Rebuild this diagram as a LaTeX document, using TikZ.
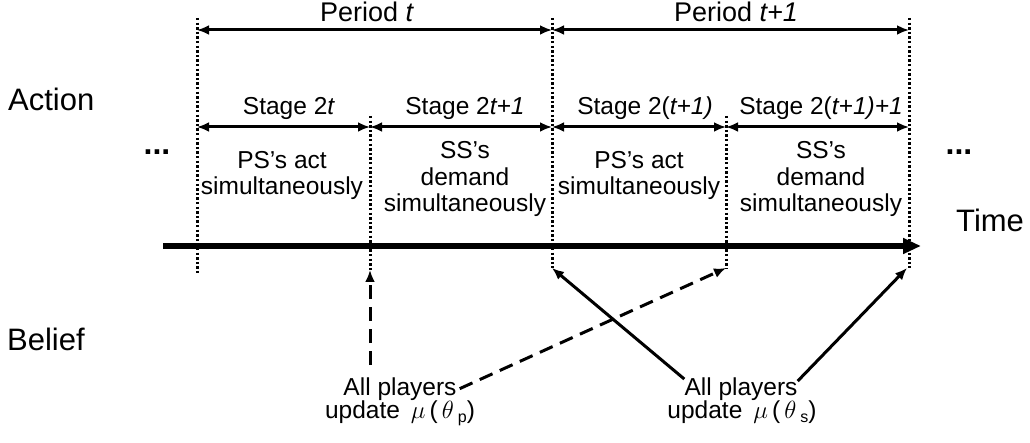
\documentclass[tikz,border=0pt]{standalone}
\usepackage{fontspec}
\setmainfont{Liberation Sans}
\usetikzlibrary{arrows.meta}
\begin{document}
\begin{tikzpicture}[x=1pt,y=-1pt,
  txt/.style={font=\fontsize{24.5}{27}\selectfont, inner sep=0pt, anchor=base},
  pertxt/.style={font=\fontsize{27}{30}\selectfont, inner sep=0pt, anchor=base},
  rowtxt/.style={font=\fontsize{31}{34}\selectfont, inner sep=0pt, anchor=base west},
  dots/.style={font=\fontsize{32}{34}\selectfont\bfseries, inner sep=0pt, anchor=base},
  boundary/.style={line width=3pt, dash pattern=on 2.4pt off 2.2pt},
  span/.style={line width=3pt, {Latex[length=12pt,width=10pt]}-{Latex[length=12pt,width=10pt]}},
  upd/.style={line width=3pt, -{Latex[length=12pt,width=10pt]}},
  updash/.style={upd, dash pattern=on 14pt off 8pt},
  timeline/.style={line width=6pt, -{Triangle[length=18pt,width=15pt]}}
]
\useasboundingbox (0,0) rectangle (1030,443);

% boundaries between periods and stages
\coordinate (b0t) at (197,18);  \coordinate (b0b) at (197,273);
\coordinate (b1t) at (370,116); \coordinate (b1b) at (370,270);
\coordinate (b2t) at (552,18);  \coordinate (b2b) at (552,268);
\coordinate (b3t) at (726,116); \coordinate (b3b) at (726,268);
\coordinate (b4t) at (909,18);  \coordinate (b4b) at (909,268);

% time axis
\coordinate (tl0) at (163,246);
\coordinate (tl1) at (921,246);
\draw[timeline] (tl0) -- (tl1);

\foreach \b in {b0,b1,b2,b3,b4}
  \draw[boundary] (\b t) -- (\b b);

% period spans
\coordinate (p0) at (197,30); \coordinate (p1) at (552,30); \coordinate (p2) at (909,30);
\draw[span] (p0) -- (p1);
\draw[span] (p1) -- (p2);
\node[pertxt] (pt) at (367,22) {Period \textit{t}};
\node[pertxt] (pt1) at (736,22) {Period \textit{t+1}};

% stage spans
\coordinate (s0) at (197,127); \coordinate (s1) at (370,127); \coordinate (s2) at (552,127);
\coordinate (s3) at (726,127); \coordinate (s4) at (909,127);
\draw[span] (s0) -- (s1);
\draw[span] (s1) -- (s2);
\draw[span] (s2) -- (s3);
\draw[span] (s3) -- (s4);
\node[txt] (st0) at (289,115) {Stage 2\textit{t}};
\node[txt] (st1) at (465,115) {Stage 2\textit{t+1}};
\node[txt] (st2) at (645,115) {Stage 2(\textit{t+1)}};
\node[txt] (st3) at (821,115) {Stage 2(\textit{t+1)+1}};

% actions in each stage
\node[txt] (a0a) at (282,169) {PS’s act};
\node[txt] (a0b) at (282,195) {simultaneously};
\node[txt] (a1a) at (465,159) {SS’s};
\node[txt] (a1b) at (465,186) {demand};
\node[txt] (a1c) at (465,212) {simultaneously};
\node[txt] (a2a) at (639,169) {PS’s act};
\node[txt] (a2b) at (639,195) {simultaneously};
\node[txt] (a3a) at (821,159) {SS’s};
\node[txt] (a3b) at (821,186) {demand};
\node[txt] (a3c) at (821,212) {simultaneously};

\node[dots] (dl) at (157,155) {...};
\node[dots] (dr) at (959,155) {...};

% row labels
\node[rowtxt] (act) at (8,111) {Action};
\node[rowtxt] (bel) at (7,350) {Belief};
\node[rowtxt] (time) at (956,232) {Time};

% belief updates
\node[txt] (u0a) at (400,395) {All players};
\node[txt] (u0b) at (400,418) {update \,$\mu$\,(\,$\theta$\,\raisebox{-0.35ex}{\fontsize{16}{16}\selectfont p})};
\node[txt] (u1a) at (741,395) {All players};
\node[txt] (u1b) at (742,418) {update \,$\mu$\,(\,$\theta$\,\raisebox{-0.35ex}{\fontsize{16}{16}\selectfont s})};

\coordinate (u0v) at (370,365);
\draw[updash] (u0v) -- (b1b);
\draw[updash] ([xshift=3pt]u0a.east) -- (b3b);
\draw[upd] ([yshift=-2pt]u1a.north west) -- (b2b);
\draw[upd] ([yshift=-4pt]u1a.north east) -- ([xshift=-2pt]b4b);
\end{tikzpicture}
\end{document}
